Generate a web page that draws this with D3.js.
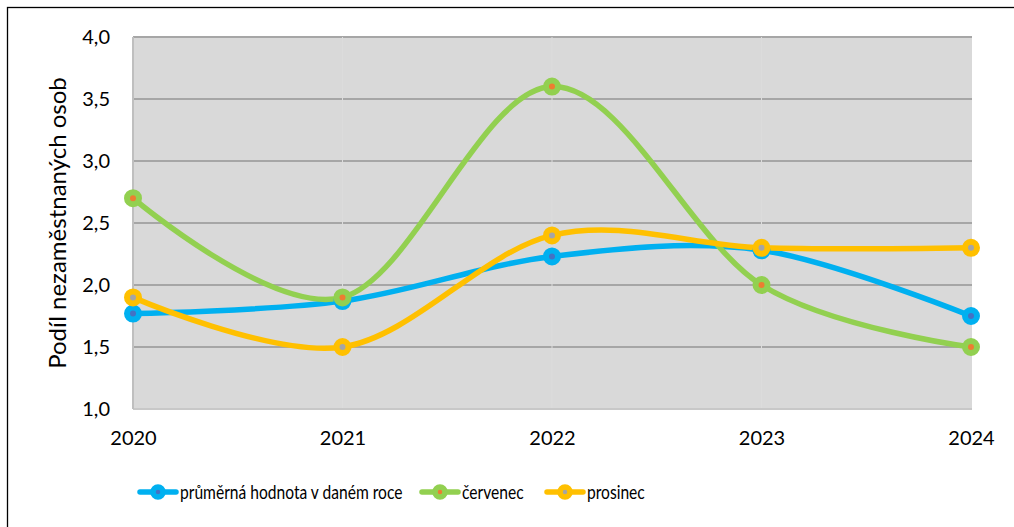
<!DOCTYPE html>
<html>
<head>
<meta charset="utf-8">
<script src="https://cdn.jsdelivr.net/npm/d3@7"></script>
<style>
  body { margin: 0; background: #fff; }
  svg { display: block; font-family: Lato, "Open Sans", sans-serif; }
</style>
</head>
<body>
<div id="chart"></div>
<script>
// Chart data
var years = ["2020", "2021", "2022", "2023", "2024"];
var prumer = [1.77, 1.87, 2.23, 2.28, 1.75];
var cervenec = [2.7, 1.9, 3.6, 2.0, 1.5];
var prosinec = [1.9, 1.5, 2.4, 2.3, 2.3];
var yTicks = [1.0, 1.5, 2.0, 2.5, 3.0, 3.5, 4.0];

var seriesNames = ["průměrná hodnota v daném roce", "červenec", "prosinec"];
var seriesValues = [prumer, cervenec, prosinec];
var lineColors = ["#00B0F0", "#92D050", "#FFC000"];
var dotColors = ["#4472C4", "#ED7D31", "#A5A5A5"];

var width = 1014,
    height = 527;

var plot = { left: 133, right: 972, top: 37, bottom: 409 };

var svg = d3.select("#chart")
    .append("svg")
    .attr("width", width)
    .attr("height", height);

// outer frame (only top and left edge are in view)
svg.append("rect")
    .attr("x", 7.5).attr("y", 7.5)
    .attr("width", 1040).attr("height", 560)
    .attr("fill", "none")
    .attr("stroke", "#000")
    .attr("stroke-width", 1.3);

var x = d3.scalePoint()
    .domain(years)
    .range([plot.left, plot.right - 1]);

var y = d3.scaleLinear()
    .domain([1, 4])
    .range([plot.bottom, plot.top]);

// plot background
svg.append("rect")
    .attr("x", plot.left)
    .attr("y", plot.top)
    .attr("width", plot.right - plot.left)
    .attr("height", plot.bottom - plot.top)
    .attr("fill", "#D9D9D9");

// horizontal gridlines
svg.selectAll(".grid")
    .data(yTicks.slice(1))
    .enter()
    .append("line")
    .attr("class", "grid")
    .attr("x1", plot.left)
    .attr("x2", plot.right)
    .attr("y1", function(d) { return y(d); })
    .attr("y2", function(d) { return y(d); })
    .attr("stroke", "#A6A6A6")
    .attr("stroke-width", 2);

// faint vertical category lines (only show as gaps in the gridlines)
svg.selectAll(".vgrid")
    .data(years.slice(1, 4))
    .enter()
    .append("line")
    .attr("class", "vgrid")
    .attr("x1", function(d) { return x(d); })
    .attr("x2", function(d) { return x(d); })
    .attr("y1", plot.top)
    .attr("y2", plot.bottom)
    .attr("stroke", "#DCDCDC")
    .attr("stroke-width", 1);

// axis lines
svg.append("line")
    .attr("x1", plot.left).attr("x2", plot.right)
    .attr("y1", plot.bottom).attr("y2", plot.bottom)
    .attr("stroke", "#C8C8C8").attr("stroke-width", 2);
svg.append("line")
    .attr("x1", plot.left).attr("x2", plot.left)
    .attr("y1", plot.top).attr("y2", plot.bottom)
    .attr("stroke", "#BFBFBF").attr("stroke-width", 2);

// y axis
var yAxis = svg.append("g")
    .attr("transform", "translate(" + (plot.left - 23) + ",0)")
    .call(d3.axisLeft(y)
        .tickValues(yTicks)
        .tickSize(0)
        .tickPadding(0)
        .tickFormat(function(d) { return d.toFixed(1).replace(".", ","); }));
yAxis.select(".domain").remove();
yAxis.selectAll("text")
    .attr("font-family", "Lato, sans-serif")
    .attr("font-size", "20px")
    .attr("fill", "#000");

// x axis
var xAxis = svg.append("g")
    .attr("transform", "translate(0," + (plot.bottom + 22) + ")")
    .call(d3.axisBottom(x).tickSize(0).tickPadding(0));
xAxis.select(".domain").remove();
xAxis.selectAll("text")
    .attr("font-family", "Lato, sans-serif")
    .attr("font-size", "20px")
    .attr("fill", "#000");

// y axis title
svg.append("text")
    .attr("transform", "translate(66," + ((plot.top + plot.bottom) / 2) + ") rotate(-90)")
    .attr("text-anchor", "middle")
    .attr("font-size", "24px")
    .attr("fill", "#000")
    .text("Podíl nezaměstnaných osob");

// smoothed lines
var line = d3.line()
    .x(function(d, i) { return x(years[i]); })
    .y(function(d) { return y(d); })
    .curve(d3.curveCatmullRom.alpha(0));

svg.selectAll(".series")
    .data(seriesValues)
    .enter()
    .append("path")
    .attr("class", "series")
    .attr("d", line)
    .attr("fill", "none")
    .attr("stroke", function(d, i) { return lineColors[i]; })
    .attr("stroke-width", 5.5)
    .attr("stroke-linecap", "round");

// markers
seriesValues.forEach(function(vals, s) {
    svg.selectAll(".marker" + s)
        .data(vals)
        .enter()
        .append("circle")
        .attr("class", "marker" + s)
        .attr("cx", function(d, i) { return x(years[i]); })
        .attr("cy", function(d) { return y(d); })
        .attr("r", 6)
        .attr("fill", dotColors[s])
        .attr("stroke", lineColors[s])
        .attr("stroke-width", 6);
});

// legend
var legendX = [140, 422, 547];
var legend = svg.selectAll(".legend")
    .data(seriesNames)
    .enter()
    .append("g")
    .attr("class", "legend")
    .attr("transform", function(d, i) { return "translate(" + legendX[i] + ",492)"; });

legend.append("line")
    .attr("x1", 0).attr("x2", 36)
    .attr("y1", 0).attr("y2", 0)
    .attr("stroke", function(d, i) { return lineColors[i]; })
    .attr("stroke-width", 5.5)
    .attr("stroke-linecap", "round");

legend.append("circle")
    .attr("cx", 18).attr("cy", 0)
    .attr("r", 5)
    .attr("fill", function(d, i) { return dotColors[i]; })
    .attr("stroke", function(d, i) { return lineColors[i]; })
    .attr("stroke-width", 5.5);

// narrowed so Lato takes the width of the original Calibri text
legend.append("text")
    .attr("transform", "translate(40,0) scale(0.8,1)")
    .attr("dy", "0.35em")
    .attr("font-size", "19.5px")
    .attr("fill", "#000")
    .text(function(d) { return d; });
</script>
</body>
</html>
